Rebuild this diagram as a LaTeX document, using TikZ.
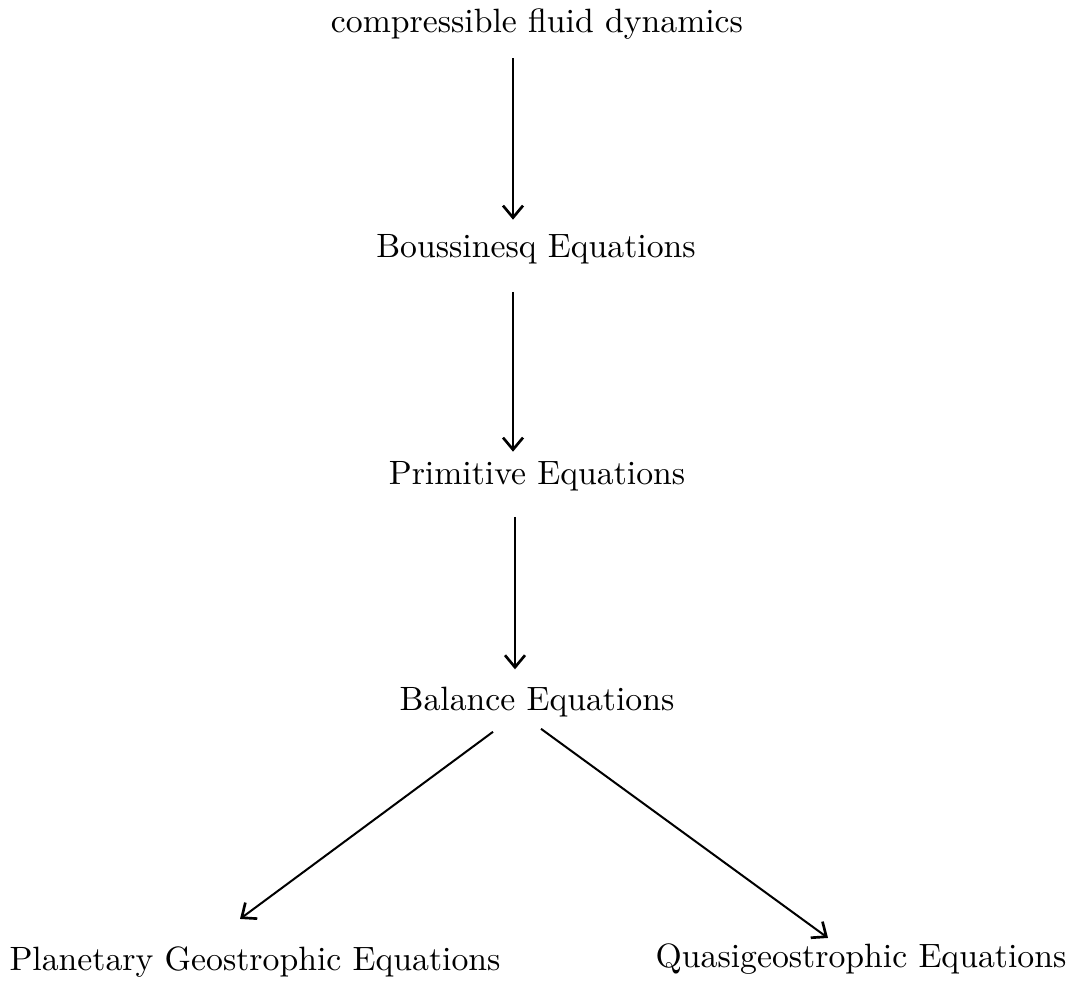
\documentclass[tikz,border=0pt]{standalone}
\usetikzlibrary{arrows.meta}

\tikzset{every picture/.style={line width=0.75pt}}
\tikzset{
  eqnlabel/.style={anchor=base,inner sep=0pt,scale=2.53},
  flowarrow/.style={line width=1.5pt,-{Straight Barb[length=9pt,width=15pt,line width=2pt]}}
}

\begin{document}
\begin{tikzpicture}[x=0.75pt,y=0.75pt,yscale=-1,xscale=1]
\useasboundingbox (0,0) rectangle (1075,983);

% Text Node
\node [eqnlabel] (cfd) at (537,32) {compressible fluid dynamics};
% Text Node
\node [eqnlabel] (bous) at (536,257) {Boussinesq Equations};
% Text Node
\node [eqnlabel] (prim) at (537,484) {Primitive Equations};
% Text Node
\node [eqnlabel] (bal) at (537,710) {Balance Equations};
% Text Node
\node [eqnlabel] (pge) at (255,970) {Planetary Geostrophic Equations};
% Text Node
\node [eqnlabel] (qge) at (861,967) {Quasigeostrophic Equations};

%Straight Lines
\draw [flowarrow] ([shift={(-24,18)}]cfd.south) -- ([shift={(-23,-13)}]bous.north);
%Straight Lines
\draw [flowarrow] ([shift={(-23,27)}]bous.south) -- ([shift={(-24,-8)}]prim.north);
%Straight Lines
\draw [flowarrow] ([shift={(-22,25)}]prim.south) -- ([shift={(-22,-16)}]bal.north);
%Straight Lines
\draw [flowarrow] ([shift={(-44,14)}]bal.south) -- ([shift={(-15,-26)}]pge.north);
%Straight Lines
\draw [flowarrow] ([shift={(4,11)}]bal.south) -- ([shift={(-33,-4)}]qge.north);

\end{tikzpicture}
\end{document}
